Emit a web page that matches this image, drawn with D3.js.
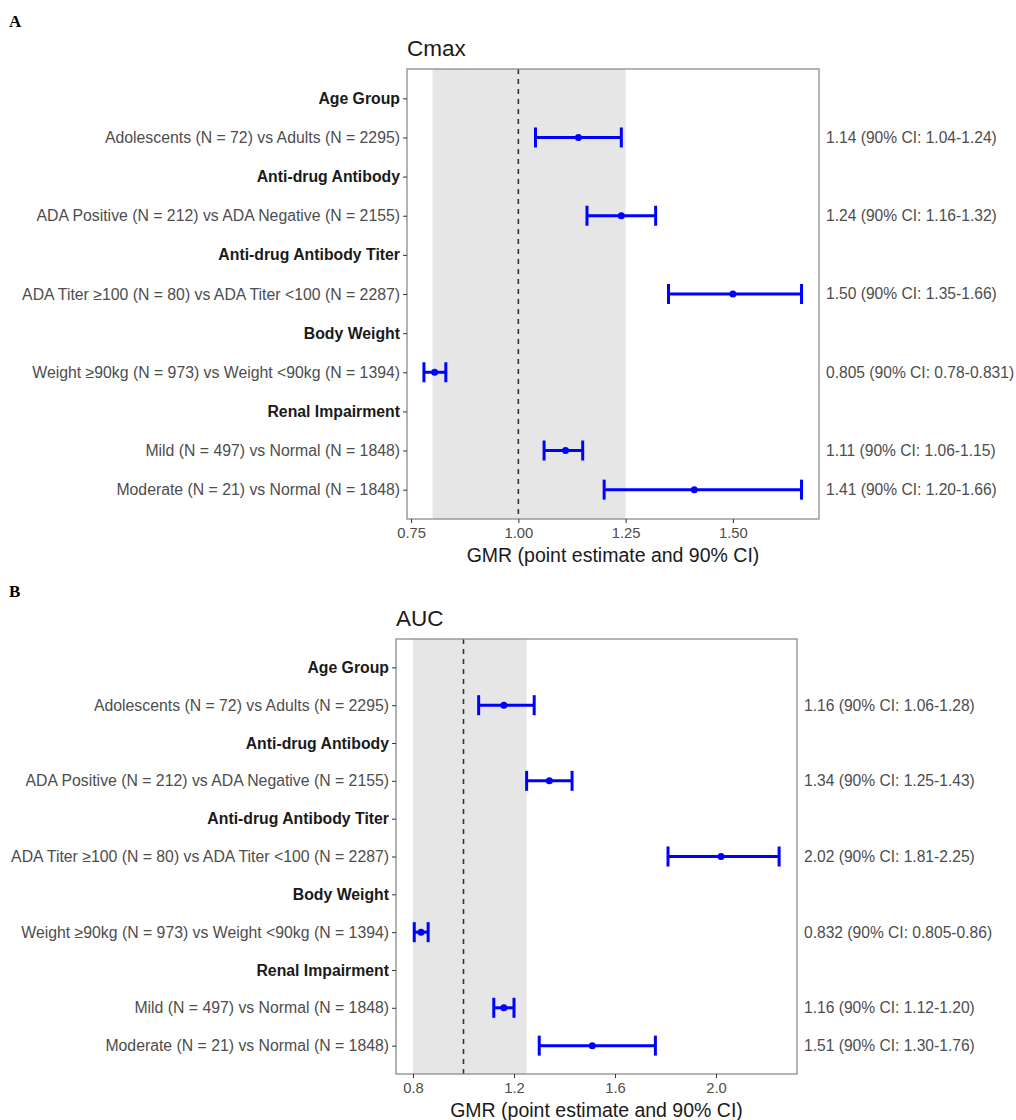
<html>
<head>
<meta charset="utf-8">
<script src="https://cdn.jsdelivr.net/npm/d3@7"></script>
<style>
  body { margin: 0; background: #fff; }
  text { font-family: "Liberation Sans", Arial, sans-serif; }
</style>
</head>
<body>
<svg id="chart"></svg>
<script>
// rows shown on the y axis, top to bottom
var rowLabels = [
  "Age Group",
  "Adolescents (N = 72) vs Adults (N = 2295)",
  "Anti-drug Antibody",
  "ADA Positive (N = 212) vs ADA Negative (N = 2155)",
  "Anti-drug Antibody Titer",
  "ADA Titer \u2265100 (N = 80) vs ADA Titer <100 (N = 2287)",
  "Body Weight",
  "Weight \u226590kg (N = 973) vs Weight <90kg (N = 1394)",
  "Renal Impairment",
  "Mild (N = 497) vs Normal (N = 1848)",
  "Moderate (N = 21) vs Normal (N = 1848)"
];
var headerRows = ["Age Group", "Anti-drug Antibody", "Anti-drug Antibody Titer", "Body Weight", "Renal Impairment"];
var comparisons = [
  "Adolescents (N = 72) vs Adults (N = 2295)",
  "ADA Positive (N = 212) vs ADA Negative (N = 2155)",
  "ADA Titer \u2265100 (N = 80) vs ADA Titer <100 (N = 2287)",
  "Weight \u226590kg (N = 973) vs Weight <90kg (N = 1394)",
  "Mild (N = 497) vs Normal (N = 1848)",
  "Moderate (N = 21) vs Normal (N = 1848)"
];

// Cmax
var cmaxGmr   = [1.14, 1.24, 1.50, 0.805, 1.11, 1.41];
var cmaxLower = [1.04, 1.16, 1.35, 0.78, 1.06, 1.20];
var cmaxUpper = [1.24, 1.32, 1.66, 0.831, 1.15, 1.66];
var cmaxText  = ["1.14 (90% CI: 1.04-1.24)", "1.24 (90% CI: 1.16-1.32)", "1.50 (90% CI: 1.35-1.66)",
                 "0.805 (90% CI: 0.78-0.831)", "1.11 (90% CI: 1.06-1.15)", "1.41 (90% CI: 1.20-1.66)"];
var cmaxTicks = [0.75, 1.00, 1.25, 1.50];

// AUC
var aucGmr   = [1.16, 1.34, 2.02, 0.832, 1.16, 1.51];
var aucLower = [1.06, 1.25, 1.81, 0.805, 1.12, 1.30];
var aucUpper = [1.28, 1.43, 2.25, 0.86, 1.20, 1.76];
var aucText  = ["1.16 (90% CI: 1.06-1.28)", "1.34 (90% CI: 1.25-1.43)", "2.02 (90% CI: 1.81-2.25)",
                "0.832 (90% CI: 0.805-0.86)", "1.16 (90% CI: 1.12-1.20)", "1.51 (90% CI: 1.30-1.76)"];
var aucTicks = [0.8, 1.2, 1.6, 2.0];

var bandLo = 0.80, bandHi = 1.25, refLine = 1.0;

var svg = d3.select("#chart").attr("width", 1016).attr("height", 1120);

function drawPanel(p) {
  var x = d3.scaleLinear().domain(p.xdom).range([p.left, p.right]);
  var y = d3.scalePoint().domain(rowLabels).range([p.top, p.bottom]).padding(0.75);
  var g = svg.append("g");

  g.append("text").attr("x", 9).attr("y", p.top - 42)
    .style("font-family", "'Liberation Serif', serif").style("font-weight", "bold")
    .style("font-size", "17px").text(p.letter);

  g.append("text").attr("x", p.left).attr("y", p.top - 13)
    .style("font-size", "22.5px").style("fill", "#1a1a1a").text(p.title);

  g.append("rect").attr("x", x(bandLo)).attr("y", p.top)
    .attr("width", x(bandHi) - x(bandLo)).attr("height", p.bottom - p.top)
    .attr("fill", "#e6e6e6");

  g.append("line").attr("x1", x(refLine)).attr("x2", x(refLine))
    .attr("y1", p.top).attr("y2", p.bottom)
    .attr("stroke", "#333").attr("stroke-width", 1.6).attr("stroke-dasharray", "5,5");

  // error bars
  var rows = g.selectAll(".ci").data(comparisons).enter().append("g");
  rows.append("line")
    .attr("x1", function(d, i) { return x(p.lo[i]); })
    .attr("x2", function(d, i) { return x(p.hi[i]); })
    .attr("y1", function(d) { return y(d); }).attr("y2", function(d) { return y(d); })
    .attr("stroke", "#0000ff").attr("stroke-width", 3);
  [p.lo, p.hi].forEach(function(arr) {
    rows.append("line")
      .attr("x1", function(d, i) { return x(arr[i]); })
      .attr("x2", function(d, i) { return x(arr[i]); })
      .attr("y1", function(d) { return y(d) - 10; }).attr("y2", function(d) { return y(d) + 10; })
      .attr("stroke", "#0000ff").attr("stroke-width", 3);
  });
  rows.append("circle")
    .attr("cx", function(d, i) { return x(p.gmr[i]); })
    .attr("cy", function(d) { return y(d); })
    .attr("r", 3.5).attr("fill", "#0000ff");
  rows.append("text")
    .attr("x", p.right + 7).attr("y", function(d) { return y(d); })
    .attr("dy", "0.35em").style("font-size", "15.6px").style("fill", "#4d4d4d")
    .text(function(d, i) { return p.labels[i]; });

  g.append("rect").attr("x", p.left).attr("y", p.top)
    .attr("width", p.right - p.left).attr("height", p.bottom - p.top)
    .attr("fill", "none").attr("stroke", "#8c8c8c").attr("stroke-width", 1.3);

  // y axis
  var ya = g.append("g").attr("transform", "translate(" + p.left + ",0)")
    .call(d3.axisLeft(y).tickSize(4).tickPadding(3));
  ya.select(".domain").remove();
  ya.selectAll(".tick line").attr("stroke", "#333");
  ya.selectAll(".tick text")
    .style("font-size", "15.8px")
    .style("font-family", "'Liberation Sans', Arial, sans-serif")
    .style("fill", function(d) { return headerRows.indexOf(d) >= 0 ? "#1a1a1a" : "#4d4d4d"; })
    .style("font-weight", function(d) { return headerRows.indexOf(d) >= 0 ? "bold" : "normal"; });

  // x axis
  var xa = g.append("g").attr("transform", "translate(0," + p.bottom + ")")
    .call(d3.axisBottom(x).tickValues(p.ticks).tickFormat(d3.format(p.fmt)).tickSize(4).tickPadding(4));
  xa.select(".domain").remove();
  xa.selectAll(".tick line").attr("stroke", "#333");
  xa.selectAll(".tick text").style("font-size", "14.8px")
    .style("font-family", "'Liberation Sans', Arial, sans-serif").style("fill", "#4d4d4d");

  g.append("text").attr("x", (p.left + p.right) / 2).attr("y", p.bottom + 43)
    .attr("text-anchor", "middle").style("font-size", "19.5px").style("fill", "#1a1a1a")
    .text("GMR (point estimate and 90% CI)");
}

drawPanel({letter: "A", title: "Cmax", left: 407, right: 819, top: 69, bottom: 519,
  xdom: [0.7405, 1.7007], ticks: cmaxTicks, fmt: ".2f",
  gmr: cmaxGmr, lo: cmaxLower, hi: cmaxUpper, labels: cmaxText});
drawPanel({letter: "B", title: "AUC", left: 396, right: 797, top: 639, bottom: 1074,
  xdom: [0.7327, 2.3208], ticks: aucTicks, fmt: ".1f",
  gmr: aucGmr, lo: aucLower, hi: aucUpper, labels: aucText});
</script>
</body>
</html>
